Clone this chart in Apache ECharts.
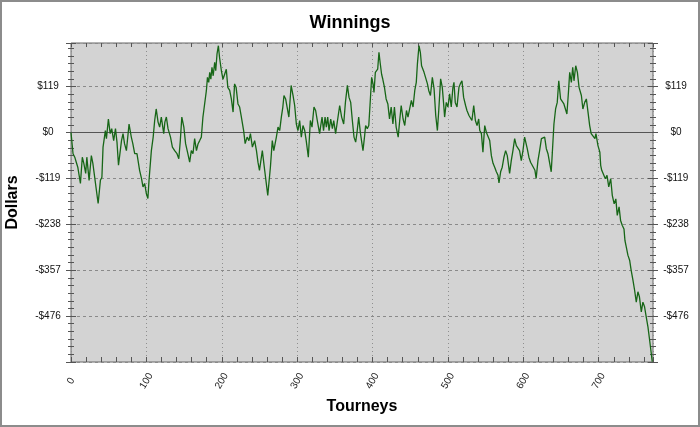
<!DOCTYPE html>
<html>
<head>
<meta charset="utf-8">
<script src="https://cdn.jsdelivr.net/npm/echarts@6/dist/echarts.min.js"></script>
<style>
html,body{margin:0;padding:0;background:#fff;}
#chart{width:700px;height:427px;}
</style>
</head>
<body>
<div id="chart"></div>
<script>
// Tourney number (x)
const tourneys = [
0,2.7,5,7,9,12.5,15,17,19.5,21,24,27,29,36,39,41,42.5,45.6,47,49.6,52,54,56.6,59,61,63,67,69,71,73.5,77,80,82,84.5,87.5,91,93.5,95.5,97.7,100,102,103.5,106.6,109,111,113,115.5,117.6,119.8,123,124.5,126.5,128.7,132,134.5,137.5,140.6,143,145,147,149.7,152,155,157.4,159.6,161.8,164,166.4,168.6,170.7,172.9,175,176.4,177.7,179.6,181,182.7,184,185.5,187,188.6,190.6,192,193.7,195.5,197,199.5,201.6,203.8,206,208,210.5,212.7,215,217,219,221.5,223.7,226,229,231,233.6,236,
238,240.6,243.6,246,248,250,253.8,256.9,261,264.5,267,269,272.4,274.6,276.8,279,281,282.5,284.7,286.4,289,292,294.5,296.7,298.9,301,303.3,305.5,307.7,310,312,314.8,317.5,319.7,322.3,324.5,326.7,329.8,331,333,335,337,338.7,340.5,342.3,344.5,346.7,348.5,351,353.4,356.4,359,361.7,364,366.6,368.8,371,373.2,375.4,377.6,379.4,381.6,384,387.3,389.5,390.8,393,395,397,398.8,400.6,401.9,403.7,405.5,406.8,408.5,410,412,413.6,415.8,418,420.3,422.5,424.7,427,429,431.3,434,436,438,440.5,442.7,445,447,449,451.5,453.7,456,458,459.5,461.6,463.4,465,467,468.3,470.5,472.8,474.5,476.8,479.3,481.6,483.8,486,487.8,490.3,
492.5,494.3,495.6,497.8,500,502.2,504.4,506.6,508,509.7,512,514.6,516.4,518.6,520.8,523.4,525.2,527.9,530,531.8,534.2,536.4,538.6,540.8,542.2,544.4,546.4,548.8,551,553.2,555.4,557.6,559.8,562,564.2,566.4,567.7,569.9,572,574.3,576.5,578.7,581.8,584,586.2,588.5,590.7,592.9,595,597.3,599.5,601.7,603,605.2,607.4,609.6,611.8,614,615.4,617,619.4,621.6,624,626,628.3,630.5,632.7,635,637,638.5,640.6,642.8,645,647,649.4,651.6,653.8,656,657.8,660,661.5,663.7,665.5,667.2,669.5,671.7,673.9,677,679,681.4,683.6,685.8,688,
690,692.4,695,696.3,699,701.5,702.6,704,706.6,708.8,711,713.3,715.9,718,720.5,722.7,724.6,727,729,731.3,733.5,734.8,736.6,738.7,741,743,745.4,747.6,749.8,752,754,756.5,758.6,760.8,763,765.3,767.5,769.7,771
];
// Cumulative winnings in dollars
const winnings = [
0,-55,-64,-77,-90,-132,-64,-80,-106,-64,-124,-60,-80,-184,-124,-116,-38,5,-16,35,-3,10,-21,10,-25,-85,-21,-3,-29,-47,22,-12,-29,-55,-55,-98,-119,-141,-132,-159,-171,-124,-47,-12,31,61,27,14,40,-3,27,40,10,-12,-38,-47,-55,-68,-21,40,14,-29,-55,-77,-47,-55,-16,-47,-29,-21,-12,40,61,57,109,143,130,156,138,169,147,182,160,204,225,195,160,138,151,164,117,109,87,53,126,117,74,66,40,5,-29,-12,-21,
-3,-38,-21,-47,-77,-98,-47,-98,-163,-90,-21,-47,-12,14,5,40,66,96,87,83,40,122,96,70,22,5,31,-12,18,5,-21,-64,31,14,66,57,31,-3,14,40,5,40,14,40,5,35,10,31,-3,-8,70,40,22,78,122,91,78,31,-12,-25,0,40,-3,-47,-8,18,10,18,83,143,126,104,156,151,164,208,182,151,138,117,87,74,35,66,22,66,14,-12,31,70,35,18,57,40,40,83,66,109,130,178,225,208,173,169,156,151,126,109,96,143,113,44,5,57,139,
117,74,40,78,66,100,66,117,130,78,66,117,126,134,91,70,57,44,40,31,70,31,18,35,5,-3,-51,18,0,-3,-21,-60,-80,-90,-102,-111,-131,-102,-90,-64,-47,-60,-106,-73,-47,-16,-34,-29,-47,-73,-47,-12,-8,-42,-64,-77,-85,-80,-98,-119,-73,-47,-16,-21,-12,-42,-55,-80,-102,-51,22,61,78,134,87,91,74,74,48,109,156,130,169,134,173,156,117,96,61,78,87,53,18,
-3,-8,-16,-3,-34,-51,-85,-98,-94,-120,-111,-141,-120,-163,-185,-172,-215,-193,-228,-241,-250,-280,-297,-318,-331,-357,-383,-409,-440,-413,-426,-465,-440,-452,-478,-504,-538,-573,-594
];
// Labelled dollar ticks
const yTickLabels = [119, 0, -119, -238, -357, -476];
const xTickLabels = [0, 100, 200, 300, 400, 500, 600, 700];

const yMin = -595, yMax = 232, yStep = 119;
const xMin = 0, xMax = 772;

const seriesData = tourneys.map((t, i) => [t, winnings[i]]);

function fmtDollar(v) {
  const r = Math.round(v);
  if (yTickLabels.indexOf(r) < 0) return '';
  return r < 0 ? '-$' + Math.abs(r) : '$' + r;
}
function fmtX(v) {
  const r = Math.round(v);
  return xTickLabels.indexOf(r) < 0 ? '' : String(r);
}

const FONT = 'Liberation Sans, Arial, sans-serif';
const tickColor = '#555';
function yTickAxis(pos, interval, len, offset) {
  return {
    type: 'value', position: pos, min: yMin, max: yMax, interval: interval, offset: offset,
    axisLine: {show: false, onZero: false}, axisLabel: {show: false}, splitLine: {show: false},
    axisTick: {show: true, length: len, lineStyle: {color: tickColor, width: 1}}
  };
}
function yLabelAxis(pos, split) {
  return {
    type: 'value', position: pos, min: yMin, max: yMax, interval: yStep,
    axisLine: {show: false, onZero: false}, axisTick: {show: false},
    axisLabel: {show: true, formatter: fmtDollar, align: 'center', margin: 23,
      color: '#111', fontSize: 10, fontFamily: FONT},
    splitLine: {show: split, lineStyle: {color: '#8a8a8a', type: [3, 3], width: 1}}
  };
}

const chart = echarts.init(document.getElementById('chart'), null, {renderer: 'canvas'});
chart.setOption({
  backgroundColor: '#ffffff',
  animation: false,
  title: {
    text: 'Winnings', left: 'center', top: 9,
    textStyle: {fontSize: 18, fontWeight: 'bold', color: '#000', fontFamily: FONT}
  },
  graphic: [{
    type: 'rect', shape: {x: 1, y: 1, width: 698, height: 425}, silent: true, z: 100,
    style: {fill: 'none', stroke: '#8c8c8c', lineWidth: 2}
  }],
  grid: {
    left: 71, right: 47, top: 43, bottom: 65, show: true, containLabel: false,
    outerBoundsMode: 'none',
    backgroundColor: '#d3d3d3', borderColor: '#666', borderWidth: 1
  },
  xAxis: [
    {
      type: 'value', position: 'bottom', min: xMin, max: xMax, interval: 100,
      name: 'Tourneys', nameLocation: 'middle', nameGap: 36,
      nameTextStyle: {fontSize: 16, fontWeight: 'bold', color: '#000', fontFamily: FONT},
      axisLine: {show: false, onZero: false},
      axisTick: {show: true, inside: true, length: 5, lineStyle: {color: tickColor}},
      axisLabel: {show: true, rotate: 60, align: 'center', verticalAlign: 'middle', margin: 19,
        formatter: fmtX, color: '#222', fontSize: 10, fontFamily: FONT},
      splitLine: {show: true, lineStyle: {color: '#8f8f8f', type: [1, 3], width: 1}}
    },
    {
      type: 'value', position: 'bottom', min: xMin, max: xMax, interval: 20,
      axisLine: {show: false, onZero: false}, axisLabel: {show: false}, splitLine: {show: false},
      axisTick: {show: true, inside: true, length: 5, lineStyle: {color: tickColor}}
    },
    {
      type: 'value', position: 'top', min: xMin, max: xMax, interval: 20,
      axisLine: {show: false, onZero: false}, axisLabel: {show: false}, splitLine: {show: false},
      axisTick: {show: true, inside: true, length: 4, lineStyle: {color: tickColor}}
    }
  ],
  yAxis: [
    Object.assign(yLabelAxis('left', true), {
      name: 'Dollars', nameLocation: 'middle', nameGap: 50, nameRotate: 90,
      nameTextStyle: {fontSize: 16, fontWeight: 'bold', color: '#000', fontFamily: FONT}
    }),
    yTickAxis('left', yStep, 10, -5),
    yTickAxis('left', yStep / 6, 6, -3),
    yLabelAxis('right', false),
    yTickAxis('right', yStep, 10, -5),
    yTickAxis('right', yStep / 6, 6, -3)
  ],
  series: [{
    type: 'line', xAxisIndex: 0, yAxisIndex: 0,
    data: seriesData, showSymbol: false, symbol: 'none',
    lineStyle: {color: '#176617', width: 1.3},
    itemStyle: {color: '#176617'},
    markLine: {
      silent: true, symbol: 'none', label: {show: false},
      lineStyle: {color: '#555', type: 'solid', width: 1},
      data: [{yAxis: 0}]
    },
    z: 5
  }]
});
</script>
</body>
</html>
